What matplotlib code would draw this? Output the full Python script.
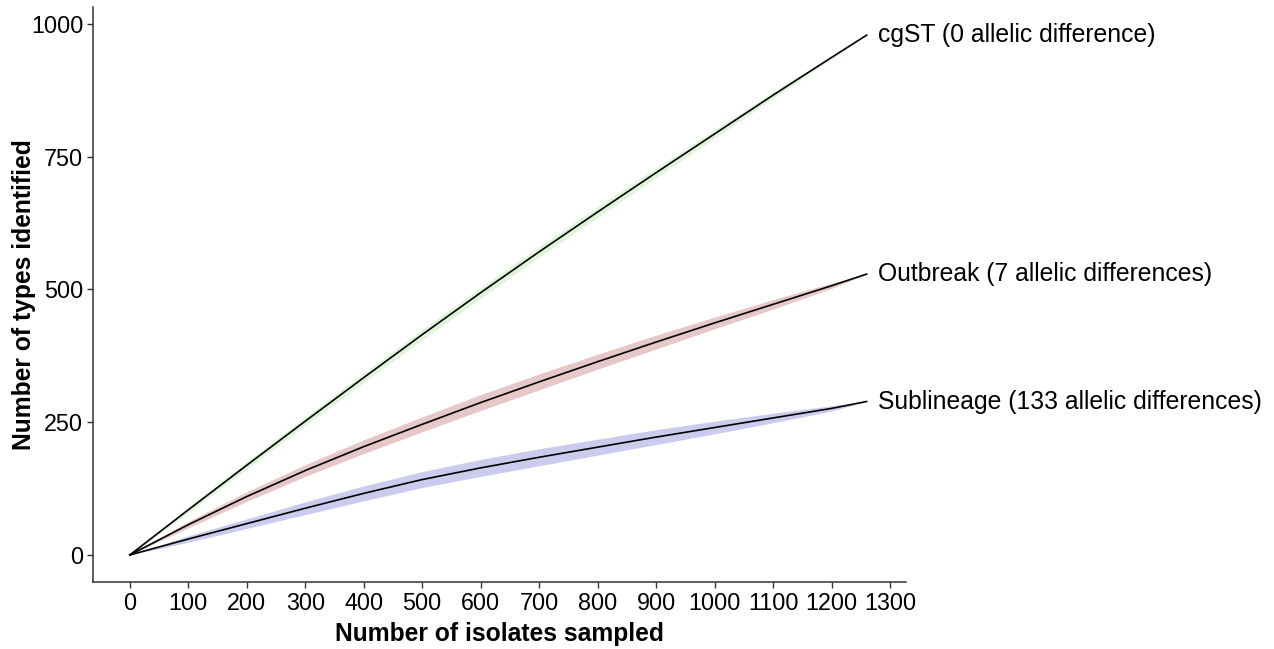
import matplotlib
matplotlib.use("Agg")
import matplotlib.pyplot as plt
import numpy as np

plt.rcParams['font.family'] = ['Liberation Sans', 'DejaVu Sans']

# Données (courbes de raréfaction)
isolats = [0, 100, 200, 300, 400, 500, 600, 700, 800, 900, 1000, 1100, 1200, 1260]

cgst = [0, 85, 169, 252, 334, 415, 494, 571, 646, 720, 793, 866, 937, 979]
outbreak = [0, 57, 110, 159, 204, 246, 287, 326, 364, 401, 437, 472, 507, 529]
sublineage = [0, 30, 59, 88, 116, 142, 164, 184, 203, 222, 240, 258, 276, 289]

# Demi-largeur de l'intervalle (ruban)
cgst_ic = [0, 5, 7, 8, 9, 10, 10, 10, 10, 9, 8, 6, 3, 0]
outbreak_ic = [0, 6, 9, 11, 13, 14, 15, 15, 14, 13, 11, 9, 5, 0]
sublineage_ic = [0, 6, 9, 12, 14, 15, 16, 16, 15, 14, 12, 9, 5, 0]

etiquettes = [
    "cgST (0 allelic difference)",
    "Outbreak (7 allelic differences)",
    "Sublineage (133 allelic differences)",
]

couleurs_ruban = ['#dff5da', '#e6c8c8', '#cbcbee']

fig = plt.figure(figsize=(12.74, 6.49), dpi=100)
ax = fig.add_axes([0.073, 0.1032, 0.638, 0.886])

series = [(cgst, cgst_ic), (outbreak, outbreak_ic), (sublineage, sublineage_ic)]
x = np.array(isolats)
for (y, ic), coul, lab in zip(series, couleurs_ruban, etiquettes):
    y = np.array(y)
    ic = np.array(ic)
    ax.fill_between(x, y - ic, y + ic, color=coul, lw=0)
    ax.plot(x, y, color='black', lw=1.2)
    ax.annotate(lab, xy=(x[-1], y[-1]), xytext=(8, 0), textcoords='offset points',
                ha='left', va='center', fontsize=17.8, annotation_clip=False)

ax.set_xlim(-63, 1327)
ax.set_ylim(-51, 1032)
ax.set_xticks(range(0, 1400, 100))
ax.set_yticks([0, 250, 500, 750, 1000])

for cote in ['top', 'right']:
    ax.spines[cote].set_visible(False)
for cote in ['left', 'bottom']:
    ax.spines[cote].set_color('#333333')
    ax.spines[cote].set_linewidth(1.1)

ax.tick_params(axis='both', labelsize=16.8, length=4, width=1, color='#333333',
               labelcolor='black', pad=3)

ax.set_xlabel("Number of isolates sampled", fontsize=17.7, fontweight='bold', labelpad=5)
ax.set_ylabel("Number of types identified", fontsize=17.7, fontweight='bold', labelpad=-3.5)

fig.savefig("out.png", dpi=100)
